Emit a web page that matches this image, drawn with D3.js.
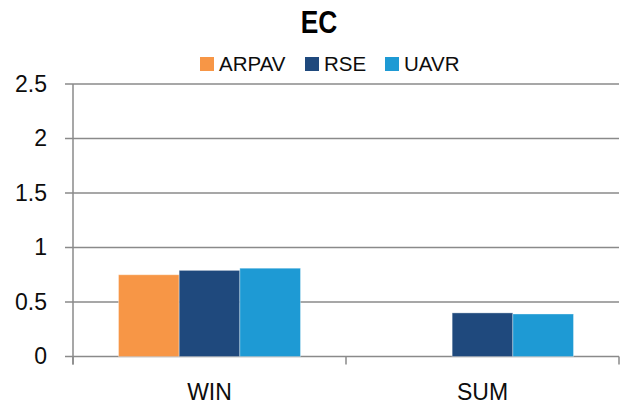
<!DOCTYPE html>
<html>
<head>
<meta charset="utf-8">
<script src="https://cdn.jsdelivr.net/npm/d3@7/dist/d3.min.js"></script>
<style>
body { margin: 0; background: #fff; }
text { font-family: "Liberation Sans", Arial, sans-serif; fill: #0d0d0d; }
</style>
</head>
<body>
<div id="chart"></div>
<script>
// data
var categories = ['WIN', 'SUM'];
var seriesNames = ['ARPAV', 'RSE', 'UAVR'];
var seriesColors = ['#F79646', '#1F497D', '#1E9AD4'];
var ARPAV = [0.75, null];
var RSE = [0.79, 0.40];
var UAVR = [0.81, 0.39];
var yTicks = [0, 0.5, 1, 1.5, 2, 2.5];

var seriesValues = { 'ARPAV': ARPAV, 'RSE': RSE, 'UAVR': UAVR };

var width = 625, height = 411;
var margin = { left: 73, right: 6, top: 84, bottom: 54.5 };

var svg = d3.select('#chart')
  .append('svg')
  .attr('width', width)
  .attr('height', height);

var x0 = d3.scaleBand()
  .domain(categories)
  .range([margin.left, width - margin.right])
  .padding(0);

var x1 = d3.scaleBand()
  .domain(seriesNames)
  .range([0, x0.bandwidth()])
  .paddingInner(0)
  .paddingOuter(0.75);

var y = d3.scaleLinear()
  .domain([0, 2.5])
  .range([height - margin.bottom, margin.top]);

var color = d3.scaleOrdinal().domain(seriesNames).range(seriesColors);

// gridlines
svg.append('g')
  .selectAll('line')
  .data(yTicks)
  .enter()
  .append('line')
  .attr('x1', margin.left - 8)
  .attr('x2', width - margin.right)
  .attr('y1', function(d) { return y(d); })
  .attr('y2', function(d) { return y(d); })
  .style('stroke', '#8a8a8a')
  .style('stroke-width', 1.5);

// bars
var rows = [];
categories.forEach(function(c, i) {
  seriesNames.forEach(function(s) {
    if (seriesValues[s][i] != null) rows.push({ cat: c, series: s, value: seriesValues[s][i] });
  });
});

svg.append('g')
  .selectAll('rect')
  .data(rows)
  .enter()
  .append('rect')
  .attr('x', function(d) { return x0(d.cat) + x1(d.series); })
  .attr('y', function(d) { return y(d.value); })
  .attr('width', x1.bandwidth())
  .attr('height', function(d) { return y(0) - y(d.value); })
  .style('fill', function(d) { return color(d.series); })
  .style('stroke', 'rgba(255,255,255,0.35)')
  .style('stroke-width', 1);

// y axis
var yAxis = svg.append('g')
  .attr('transform', 'translate(' + margin.left + ',0)')
  .call(d3.axisLeft(y).tickValues(yTicks).tickSize(8).tickPadding(10)
    .tickFormat(function(d) { return String(d); }));
yAxis.select('.domain').remove();
yAxis.selectAll('.tick line').remove();
yAxis.append('line')
  .attr('x1', 0).attr('x2', 0)
  .attr('y1', margin.top).attr('y2', y(0) + 8)
  .style('stroke', '#8a8a8a').style('stroke-width', 1.5);
yAxis.selectAll('text')
  .attr('x', -26)
  .style('font-size', '23px')
  .style('fill', '#0d0d0d');

// x axis
var xAxis = svg.append('g')
  .attr('transform', 'translate(0,' + y(0) + ')')
  .call(d3.axisBottom(x0).tickSize(0).tickPadding(27));
xAxis.select('.domain').remove();
xAxis.selectAll('text')
  .style('font-size', '23px')
  .style('fill', '#0d0d0d');
xAxis.selectAll('.sep')
  .data(x0.domain().concat(['end']))
  .enter()
  .append('line')
  .attr('class', 'sep')
  .attr('x1', function(d) { return d === 'end' ? x0.range()[1] : x0(d); })
  .attr('x2', function(d) { return d === 'end' ? x0.range()[1] : x0(d); })
  .attr('y1', 0).attr('y2', 8)
  .style('stroke', '#8a8a8a').style('stroke-width', 1.5);

// title (narrowed a bit, the original face is condensed)
svg.append('g')
  .attr('transform', 'translate(319,33) scale(0.85,1)')
  .append('text')
  .attr('text-anchor', 'middle')
  .style('font-size', '31px')
  .style('font-weight', 'bold')
  .style('fill', '#000')
  .text('EC');

// legend
var legendX = [200, 305, 385];
var legend = svg.selectAll('.legend')
  .data(seriesNames)
  .enter()
  .append('g')
  .attr('class', 'legend')
  .attr('transform', function(d, i) { return 'translate(' + legendX[i] + ',57)'; });
legend.append('rect')
  .attr('width', 14)
  .attr('height', 14)
  .style('fill', function(d) { return color(d); });
legend.append('text')
  .attr('x', 19)
  .attr('y', 13.5)
  .style('font-size', '20.5px')
  .text(function(d) { return d; });
</script>
</body>
</html>
